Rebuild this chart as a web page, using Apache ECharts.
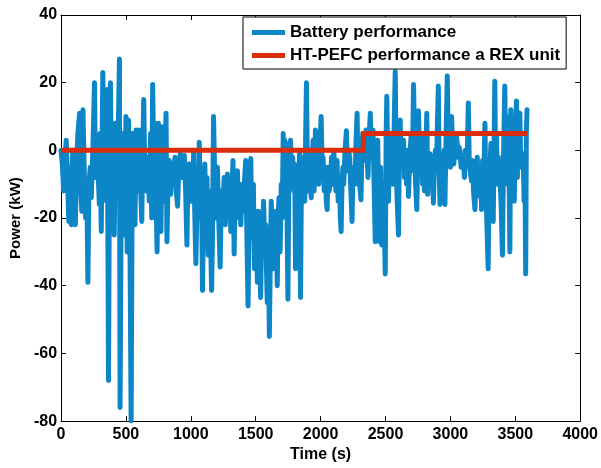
<!DOCTYPE html>
<html>
<head>
<meta charset="utf-8">
<script src="https://cdn.jsdelivr.net/npm/echarts@6/dist/echarts.min.js"></script>
<style>
  html, body { margin: 0; padding: 0; background: #fff; }
  #chart { width: 601px; height: 468px; }
</style>
</head>
<body>
<div id="chart"></div>
<script>
// time axis (s) and battery power (kW)
var batteryTime = [
  0, 10, 20, 30, 40, 50, 60, 70, 80, 90, 100, 110, 120, 130, 143, 150, 160, 169, 180, 190,
  200, 207, 215, 225, 233, 245, 258, 265, 275, 284, 295, 300, 310, 322, 330, 340, 350, 356, 366, 374,
  381, 390, 400, 410, 420, 430, 440, 450, 455, 465, 475, 489, 500, 510, 520, 530, 540, 550, 560, 570,
  578, 590,
  600, 612, 622, 630, 637, 645, 655, 668, 680, 690, 699, 706, 715, 725, 733, 740, 750, 760, 770, 778,
  790, 800, 809, 816, 825, 835, 845, 855, 866, 878, 888, 898, 908, 919, 930, 940, 950, 960, 970, 978,
  988, 1000, 1014, 1022, 1030, 1039, 1050, 1058, 1065, 1075, 1082, 1090, 1100, 1108, 1116, 1125, 1134, 1142, 1150, 1160,
  1167, 1175, 1185, 1195, 1205,
  1215, 1226, 1235, 1245, 1257, 1265, 1272, 1282, 1290, 1298, 1308, 1316, 1325, 1334, 1342, 1350, 1359, 1368, 1377, 1385,
  1395, 1405, 1415, 1423, 1432, 1441, 1450, 1462, 1468, 1474, 1482, 1490, 1500, 1507, 1513, 1520, 1530, 1538, 1545, 1551,
  1560, 1570, 1577, 1583, 1589, 1597, 1605, 1613, 1620, 1628, 1635, 1641, 1650, 1658, 1666, 1672, 1679, 1688, 1697, 1704,
  1712, 1718, 1724, 1730, 1738, 1748, 1755, 1762, 1768, 1776, 1785, 1794, 1800, 1807, 1814,
  1822, 1830, 1838, 1845, 1852, 1860, 1870, 1878, 1885, 1891, 1898, 1905, 1912, 1920, 1928, 1935, 1942, 1950, 1960, 1968,
  1978, 1986, 1995, 2004, 2012, 2019, 2028, 2036, 2044, 2050, 2058, 2066, 2076, 2085, 2093, 2101, 2110, 2118, 2127, 2135,
  2145, 2152, 2158, 2165, 2172, 2178, 2188, 2199, 2206, 2215, 2224, 2233, 2242, 2248, 2255, 2265, 2273, 2281, 2287, 2293,
  2300, 2311, 2318, 2325, 2332, 2340, 2350, 2357, 2365, 2375, 2383, 2390, 2398, 2404, 2412, 2421, 2428,
  2440, 2447, 2454, 2462, 2472, 2480, 2490, 2498, 2505, 2510, 2517, 2523, 2530, 2540, 2549, 2556, 2562, 2568, 2575, 2582,
  2590, 2600, 2607, 2613, 2620, 2628, 2639, 2646, 2655, 2662, 2670, 2677, 2684, 2690, 2698, 2706, 2716, 2724, 2732, 2741,
  2748, 2754, 2762, 2770, 2780, 2786, 2792, 2800, 2810, 2818, 2825, 2832, 2843, 2850, 2858, 2869, 2876, 2884, 2895, 2900,
  2907, 2913, 2920, 2928, 2936, 2946, 2952, 2958, 2966, 2976, 2984, 2992, 3000, 3009, 3018, 3026, 3035, 3042,
  3050, 3058, 3066, 3074, 3082, 3090, 3099, 3108, 3116, 3124, 3131, 3138, 3145, 3152, 3163, 3170, 3178, 3189, 3196, 3207,
  3215, 3227, 3233, 3240, 3248, 3258, 3266, 3272, 3280, 3291, 3298, 3304, 3312, 3320, 3330, 3342, 3348, 3355, 3362, 3370,
  3381, 3390, 3401, 3410, 3419, 3425, 3432, 3440, 3448, 3458, 3465, 3472, 3483, 3492, 3500, 3509, 3516, 3522, 3535, 3542,
  3550, 3560, 3568, 3575, 3580, 3585, 3590
];
var batteryPower = [
  0, -4, -12, -2, 3, -8, -21, -5, -22, 0, -15, -22, -4, 5, 11, -10, -18, 12, -8, -20,
  -14, -39, -10, -5, -14, 0, 20, -8, 2, -5, -16, 5, -24, 23, -5, 10, -15, 18, -68, 5,
  20, -20, 2, -25, 8, -12, 3, 27, -76, -5, 5, -25, 10, -30, 9, -20, -80, 5, -15, -22,
  6, -12,
  6, -10, -21, 0, 15, -5, -12, -2, -15, 5, -20, 19.5, -5, 8, -15, -30, 8, -10, -24, 7,
  -15, -5, 11, -27, -8, -3, -13, -4, -10, -2, -12, -16.5, -5, -1, -8, -3, -1.5, -12, -28, -6,
  -4, -15, -14, 0, -18, -33.5, -10, -20, 2.4, -20, -8, -41.4, -12, -4, -20, -8, -31, -12, -20, -41.4,
  -25, 10, -10, -20, -5,
  -20, -34.5, -12, -18, -8, -22, -14, -7, -20, -10, -24, -12, -3, -30.6, -10, -18, -6, -20, -12, -22,
  -10, -18, -8, -3, -25, -46, -15, -2.4, -20, -26, -10, -35, -18, -28, -39, -18, -30, -43.5, -25, -30,
  -15, -28, -22, -35, -45, -25, -55, -30, -15, -28, -35, -22, -33, -18, -40, -20, -14, -30, -10, -20,
  5, -10, 3, -15, -5, -44, -10, 2, 3, -8, -2, -12, -4, -35, -10,
  -5, -20, 0, -43.5, -10, -3, -2, -15, 5, 20, -5, -12, 0, -10, -14, -5, 3, -12, 6, -8,
  -3, -10, 2, 10, -5, -2, -12, -5, -15, -17.5, -5, -12, -8, -2, -10, 0, -6, -12, -3, -15,
  -8, -20, -24, -10, -5, -10, 0, 5.8, -6, 0, -2, -12, -21, -8, -5, -10, 3, 11, -4, -6,
  -10, -14.6, 0, 5, 4, -3, 6, 0, -8, 5, 11, 0, 3, 6, -10, -27, 0,
  3, -15, -27, -5, -28, -10, -20, -36.5, 5, 16, -5, -15, 2, -8, 4, -10, -3, 10, 23.3, -5,
  -15, -25, 0, 9, -5, 2, 3, -8, -2, -10, 0, -13.6, -5, 0, 5, -6, 19.5, 2, -10, -17.5,
  -3, 11.7, -2, 3, -1, -10, 4, -12, -2, 11, -13, -5, -1, -8, -3, -15.6, -5, 0, -1, 8,
  19, -5, -16, -8, -12, -12, 0, -16, 3, 22, -1, 3, -5, 10, 0, -4, 0, 5,
  3, -2, 1, 0, -5, -3, -2, -8, 0, -4, 0, 14, -3, -6, -9, -3, -12, -17.5, -8, -2,
  -12, -13.6, -5, -17.5, -3, -8, 8, -10, -20, -35, -10, -7, 2, -10, -21, 20.4, -5, 5, -10, -2,
  -8, -15, -31, 0, 19, -2, 0, -10, 10, -30, 12, -5, -2, -15, 5, 14.6, -8, 10, 11, -5,
  -2, -1, -15, -10, -36.5, 5, 12
];
// HT-PEFC range extender output (kW)
var fcTime = [0, 2330, 2330, 3590];
var fcPower = [0, 0, 5, 5];

var seriesNames = ['Battery performance', 'HT-PEFC performance a REX unit'];
var xTicks = { min: 0, max: 4000, interval: 500 };
var yTicks = { min: -80, max: 40, interval: 20 };

function zip (a, b) {
  return a.map(function (v, i) { return [v, b[i]]; });
}

var myChart = echarts.init(document.getElementById('chart'));
var font = 'Liberation Sans, Arial, sans-serif';
var axisStyle = { onZero: false, lineStyle: { color: '#000', width: 1 } };
var tickStyle = { inside: true, length: 5, lineStyle: { color: '#000', width: 1 } };
var plain = function (v) { return String(v); };

var option = {
  animation: false,
  backgroundColor: '#fff',
  grid: { left: 61, right: 19, top: 15, bottom: 44 },
  legend: {
    data: [
      { name: seriesNames[0], icon: 'rect' },
      { name: seriesNames[1], icon: 'rect' }
    ],
    orient: 'vertical',
    left: 243,
    top: 17,
    padding: [7, 6, 5, 9],
    itemGap: 6,
    itemWidth: 33,
    itemHeight: 5,
    backgroundColor: '#fff',
    borderColor: '#000',
    borderWidth: 1,
    borderRadius: 0,
    textStyle: { fontFamily: font, fontWeight: 'bold', fontSize: 17, color: '#000' }
  },
  xAxis: [{
    type: 'value',
    min: xTicks.min, max: xTicks.max, interval: xTicks.interval,
    name: 'Time (s)',
    nameLocation: 'middle',
    nameGap: 23,
    nameTextStyle: { fontFamily: font, fontWeight: 'bold', fontSize: 16, color: '#000' },
    axisLine: axisStyle,
    axisTick: tickStyle,
    axisLabel: { fontFamily: font, fontWeight: 'bold', fontSize: 16, color: '#000', margin: 5, formatter: plain },
    splitLine: { show: false }
  }, {
    type: 'value', position: 'top',
    min: xTicks.min, max: xTicks.max, interval: xTicks.interval,
    axisLine: axisStyle, axisTick: tickStyle,
    axisLabel: { show: false }, splitLine: { show: false }
  }],
  yAxis: [{
    type: 'value',
    min: yTicks.min, max: yTicks.max, interval: yTicks.interval,
    name: 'Power (kW)',
    nameLocation: 'middle',
    nameGap: 36,
    nameTextStyle: { fontFamily: font, fontWeight: 'bold', fontSize: 15, color: '#000' },
    axisLine: axisStyle,
    axisTick: tickStyle,
    axisLabel: { fontFamily: font, fontWeight: 'bold', fontSize: 16, color: '#000', margin: 4, formatter: plain },
    splitLine: { show: false }
  }, {
    type: 'value', position: 'right',
    min: yTicks.min, max: yTicks.max, interval: yTicks.interval,
    axisLine: axisStyle, axisTick: tickStyle,
    axisLabel: { show: false }, splitLine: { show: false }
  }],
  series: [{
    name: seriesNames[0],
    type: 'line',
    data: zip(batteryTime, batteryPower),
    showSymbol: false,
    symbol: 'none',
    color: '#0d86c8',
    lineStyle: { color: '#0d86c8', width: 5, cap: 'round', join: 'round' }
  }, {
    name: seriesNames[1],
    type: 'line',
    data: zip(fcTime, fcPower),
    showSymbol: false,
    symbol: 'none',
    color: '#d92d0c',
    lineStyle: { color: '#d92d0c', width: 5, join: 'miter' }
  }]
};
myChart.setOption(option);
window.addEventListener('resize', function () {
  myChart.resize();
});
</script>
</body>
</html>
